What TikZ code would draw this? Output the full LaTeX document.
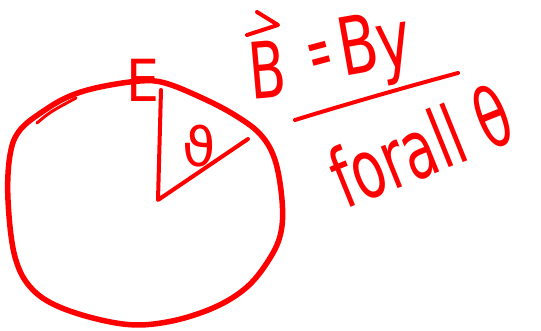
\documentclass[tikz,border=0pt]{standalone}
\usepackage{fontspec}
\setmainfont{DejaVu Sans}
\tikzset{
  ink/.style={draw=red, line width=4pt, line cap=round, line join=round},
  rim/.style={draw=red, line width=5.5pt, line cap=round, line join=round},
  hand/.style={text=red, inner sep=0pt, outer sep=0pt}
}
\begin{document}
\begin{tikzpicture}[x=1pt,y=-1pt]
\useasboundingbox (0,0) rectangle (541,331);
% circle
\draw[rim] plot[smooth cycle, tension=0.6] coordinates {
 (100,87) (140,81) (165,83) (200,97) (233,114) (260,134) (275,160) (282,200)
 (281,232) (270,258) (247,287) (213,308) (167,322) (123,324) (67,310) (33,290)
 (15,257) (8,200) (10,155) (20,130) (45,110) (70,96)};
% small flick at top-left
\coordinate (f1) at (37,123);
\coordinate (f2) at (76,98);
\draw[ink, line width=3pt] (f1) .. controls (50,112) .. (f2);
% radius lines
\coordinate (O) at (158,200);
\coordinate (T) at (161,90);
\coordinate (D) at (248,139);
\draw[ink] (T) -- (O) -- (D);
% labels
\node[hand, font=\fontsize{58}{58}\selectfont] (E) at (143,80) {\scalebox{0.9}[1]{E}};
\node[hand, font=\fontsize{54}{54}\selectfont] (th) at (199,146) {ϑ};
% B vector = By
\node[hand, anchor=base west, font=\fontsize{78}{78}\selectfont, rotate=5] (B1) at (251,100) {\scalebox{0.69}[1]{B}};
\coordinate (a1) at (257,12);
\coordinate (a2) at (278,25);
\coordinate (a3) at (247,35);
\draw[ink] (a1) -- (a2) -- (a3);
\node[hand, font=\fontsize{75}{75}\selectfont, rotate=15] (eq) at (321,60) {\scalebox{0.37}[1]{=}};
\node[hand, anchor=base west, font=\fontsize{80}{80}\selectfont, rotate=10] (By) at (343,77) {\scalebox{0.72}[1]{By}};
% underline
\coordinate (u1) at (295,120);
\coordinate (u2) at (458,73);
\draw[ink] (u1) .. controls (350,103) and (410,86) .. (u2);
% for all theta
\node[hand, anchor=base west, font=\fontsize{82}{82}\selectfont, rotate=22] (fa) at (345,210) {\scalebox{0.66}[1]{forall θ}};
\end{tikzpicture}
\end{document}
